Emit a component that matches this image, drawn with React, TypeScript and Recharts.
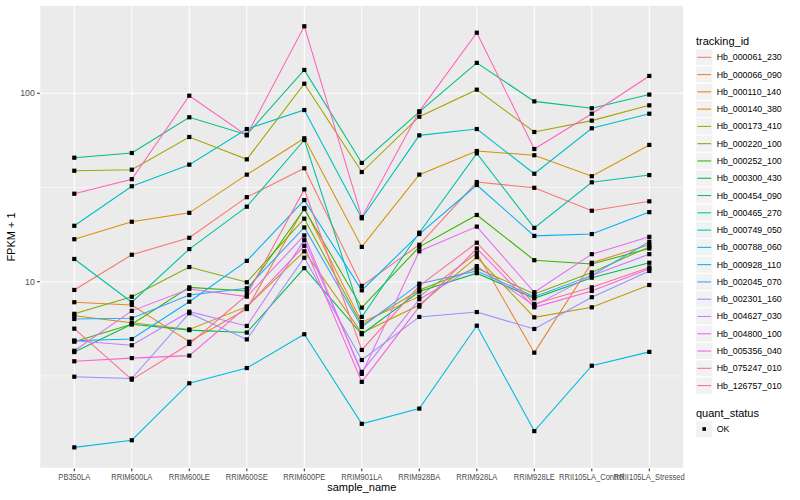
import React from 'react';
import { LineChart, Line, XAxis, YAxis, CartesianGrid, ReferenceLine } from 'recharts';

const samples = ['PB350LA', 'RRIM600LA', 'RRIM600LE', 'RRIM600SE', 'RRIM600PE', 'RRIM901LA', 'RRIM928BA', 'RRIM928LA', 'RRIM928LE', 'RRII105LA_Control', 'RRII105LA_Stressed'];

const Hb_000061_230 = [9.04, 13.9, 17.1, 28.1, 40.0, 9.5, 15.7, 33.8, 31.5, 23.8, 26.7];
const Hb_000066_090 = [7.78, 7.52, 4.8, 7.16, 24.6, 6.1, 8.33, 14.2, 4.2, 12.6, 15.7];
const Hb_000110_140 = [16.8, 20.8, 23.2, 37.0, 57.7, 15.3, 37.0, 49.4, 46.9, 36.3, 53.2];
const Hb_000140_380 = [6.6, 6.06, 5.58, 7.37, 14.5, 5.34, 7.52, 13.5, 6.47, 7.31, 9.6];
const Hb_000173_410 = [38.8, 39.3, 58.6, 44.6, 112.4, 38.2, 75.1, 104.5, 62.3, 71.6, 86.3];
const Hb_000220_100 = [6.75, 8.32, 11.96, 9.93, 21.6, 5.9, 9.04, 11.8, 8.61, 11.2, 15.3];
const Hb_000252_100 = [4.8, 5.94, 9.33, 8.93, 24.3, 7.28, 15.3, 22.6, 13.0, 12.4, 15.0];
const Hb_000300_430 = [4.23, 5.94, 5.53, 5.37, 11.8, 5.26, 8.86, 11.1, 8.16, 10.5, 12.6];
const Hb_000454_090 = [45.5, 48.2, 74.6, 60.3, 133, 42.7, 79.6, 145, 90.6, 83.3, 98.4];
const Hb_000465_270 = [13.2, 7.78, 14.9, 25.0, 56.5, 6.5, 18.2, 48.0, 19.3, 33.7, 36.8];
const Hb_000749_050 = [19.8, 32.1, 41.8, 64.6, 81.5, 21.7, 59.8, 64.6, 37.4, 65.2, 77.9];
const Hb_000788_060 = [1.32, 1.44, 2.89, 3.48, 5.26, 1.76, 2.12, 5.84, 1.61, 3.58, 4.24];
const Hb_000928_110 = [4.86, 4.96, 7.83, 12.9, 27.1, 9.0, 17.9, 32.6, 17.5, 17.9, 23.4];
const Hb_002045_070 = [6.34, 6.39, 8.49, 9.23, 19.4, 5.75, 9.76, 11.4, 8.33, 10.8, 16.3];
const Hb_002301_160 = [3.13, 3.06, 6.8, 4.94, 13.4, 3.84, 6.5, 6.9, 5.61, 8.27, 11.4];
const Hb_004627_030 = [4.86, 4.6, 6.93, 5.82, 16.6, 3.32, 8.07, 12.1, 7.46, 10.8, 14.0];
const Hb_004800_100 = [4.3, 7.0, 9.15, 8.33, 17.6, 3.24, 14.5, 19.6, 8.79, 14.0, 17.3];
const Hb_005356_040 = [3.78, 3.93, 4.05, 7.37, 15.5, 2.94, 7.37, 15.0, 7.31, 8.93, 11.7];
const Hb_075247_010 = [29.3, 35.0, 97.1, 59.8, 226.8, 22.0, 80.2, 209.7, 50.6, 77.9, 123.6];
const Hb_126757_010 = [5.63, 3.02, 4.67, 8.49, 30.9, 4.34, 9.5, 16.1, 7.62, 9.33, 11.9];

const seriesNames = ['Hb_000061_230', 'Hb_000066_090', 'Hb_000110_140', 'Hb_000140_380', 'Hb_000173_410', 'Hb_000220_100', 'Hb_000252_100', 'Hb_000300_430', 'Hb_000454_090', 'Hb_000465_270', 'Hb_000749_050', 'Hb_000788_060', 'Hb_000928_110', 'Hb_002045_070', 'Hb_002301_160', 'Hb_004627_030', 'Hb_004800_100', 'Hb_005356_040', 'Hb_075247_010', 'Hb_126757_010'];
const seriesValues = [Hb_000061_230, Hb_000066_090, Hb_000110_140, Hb_000140_380, Hb_000173_410, Hb_000220_100, Hb_000252_100, Hb_000300_430, Hb_000454_090, Hb_000465_270, Hb_000749_050, Hb_000788_060, Hb_000928_110, Hb_002045_070, Hb_002301_160, Hb_004627_030, Hb_004800_100, Hb_005356_040, Hb_075247_010, Hb_126757_010];
const seriesColors = ['#F8766D', '#EA8331', '#D89000', '#C09B00', '#A3A500', '#7CAE00', '#39B600', '#00BB4E', '#00BF7D', '#00C1A3', '#00BFC4', '#00BAE0', '#00B0F6', '#35A2FF', '#9590FF', '#C77CFF', '#E76BF3', '#FA62DB', '#FF62BC', '#FF6C91'];

const yTicks = [10, 100];
const yMinor = [3.1623, 31.623];
const yDomain = [1.0207, 293.1];

const data = samples.map((s, i) => {
  const row: any = { idx: i, sample: s };
  seriesNames.forEach((n, k) => { row[n] = seriesValues[k][i]; });
  return row;
});

const PL = 39.8, PR = 683.8, PT = 5.3, PB = 468.4;
const FONT = '"Liberation Sans", Arial, Helvetica, sans-serif';

const XTick = (p: any) => {
  const label = samples[p.payload.value];
  return (
    <g transform={`translate(${p.x},${p.y})`}>
      <text x={0} y={0} dy="0.71em" textAnchor="middle" fontSize={8.8} fill="#4D4D4D" fontFamily={FONT} transform="scale(0.86,1)">
        {label}
      </text>
    </g>
  );
};

export default function App() {
  const keyTop = 48.65;
  const keyH = 17.28;
  return (
    <div style={{ position: 'absolute', left: 0, top: 0, width: 800, height: 500, background: '#fff', fontFamily: FONT }}>
      <LineChart
        width={800}
        height={500}
        data={data}
        margin={{ top: PT, right: 800 - PR, bottom: 500 - PB - 20, left: PL - 20 }}
      >
        <CartesianGrid fill="#EBEBEB" stroke="#FFFFFF" strokeWidth={1.07} />
        {yMinor.map((v) => (
          <ReferenceLine key={'m' + v} y={v} stroke="#FFFFFF" strokeWidth={0.53} />
        ))}
        <XAxis
          type="number"
          dataKey="idx"
          domain={[-0.6, 10.6]}
          ticks={samples.map((_, i) => i)}
          interval={0}
          allowDataOverflow
          axisLine={false}
          tickSize={2.75}
          tickMargin={2.2}
          tickLine={{ stroke: '#333333', strokeWidth: 1.07 }}
          tick={XTick}
          height={20}
        />
        <YAxis
          scale="log"
          type="number"
          domain={yDomain}
          ticks={yTicks}
          allowDataOverflow
          axisLine={false}
          tickSize={2.75}
          tickMargin={2.2}
          tickLine={{ stroke: '#333333', strokeWidth: 1.07 }}
          tick={{ fontSize: 8.8, fill: '#4D4D4D', fontFamily: FONT }}
          width={20}
        />
        {seriesNames.map((n, k) => (
          <Line
            key={'l' + n}
            type="linear"
            dataKey={n}
            stroke={seriesColors[k]}
            strokeWidth={1.07}
            dot={false}
            activeDot={false}
            isAnimationActive={false}
          />
        ))}
        {seriesNames.map((n) => (
          <Line
            key={'p' + n}
            type="linear"
            dataKey={n}
            stroke="none"
            activeDot={false}
            isAnimationActive={false}
            dot={(p: any) => (
              <rect key={n + '-' + p.index} x={p.cx - 2.1} y={p.cy - 2.1} width={4.2} height={4.2} fill="#000000" />
            )}
          />
        ))}
      </LineChart>

      <div style={{ position: 'absolute', left: 0, width: 800, top: 481, fontSize: 11, color: '#000' }}>
        <span style={{ position: 'absolute', left: (PL + PR) / 2, transform: 'translateX(-50%)', whiteSpace: 'nowrap' }}>sample_name</span>
      </div>
      <div style={{ position: 'absolute', left: 11, top: (PT + PB) / 2, fontSize: 11, color: '#000', transform: 'translate(-50%, -50%) rotate(-90deg)', whiteSpace: 'nowrap' }}>
        FPKM + 1
      </div>

      <svg width={110} height={500} style={{ position: 'absolute', left: 690, top: 0 }}>
        <g transform="translate(-690,0)" fontFamily={FONT}>
          <text x={696} y={40.7} fontSize={11} dominantBaseline="central" fill="#000">tracking_id</text>
          {seriesNames.map((n, k) => {
            const y = keyTop + k * keyH;
            return (
              <g key={'lg' + n}>
                <rect x={695.6} y={y} width={keyH} height={keyH} fill="#F2F2F2" stroke="#FFFFFF" strokeWidth={1.07} />
                <line x1={697.3} x2={711.2} y1={y + keyH / 2} y2={y + keyH / 2} stroke={seriesColors[k]} strokeWidth={1.07} />
                <text x={716.7} y={y + keyH / 2} fontSize={8.8} dominantBaseline="central" fill="#000">{n}</text>
              </g>
            );
          })}
          <text x={696} y={412.7} fontSize={11} dominantBaseline="central" fill="#000">quant_status</text>
          <rect x={695.6} y={429 - keyH / 2} width={keyH} height={keyH} fill="#F2F2F2" stroke="#FFFFFF" strokeWidth={1.07} />
          <rect x={704.2 - 1.8} y={429 - 1.8} width={3.6} height={3.6} fill="#000" />
          <text x={716.7} y={429} fontSize={8.8} dominantBaseline="central" fill="#000">OK</text>
        </g>
      </svg>
    </div>
  );
}
